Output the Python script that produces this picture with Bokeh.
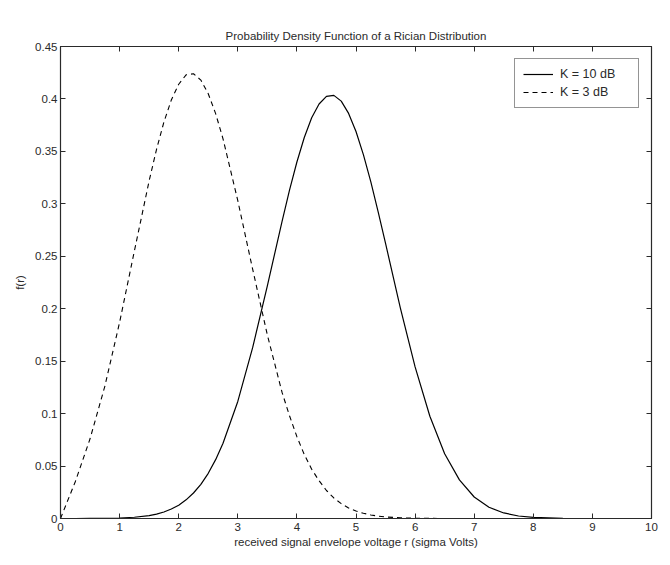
from bokeh.plotting import figure
from bokeh.models import LinearAxis, FixedTicker, Range1d, Legend, LegendItem
from bokeh.embed import file_html
from bokeh.resources import INLINE

# Data
r_values = [0, 0.25, 0.5, 0.75, 1.0, 1.25, 1.5, 1.625, 1.75, 1.875, 2.0, 2.125, 2.25,
            2.375, 2.5, 2.625, 2.75, 3.0, 3.25, 3.5, 3.75, 3.875, 4.0, 4.125, 4.25,
            4.375, 4.5, 4.625, 4.75, 4.875, 5.0, 5.125, 5.25, 5.375, 5.5, 5.75, 6.0,
            6.25, 6.5, 6.75, 7.0, 7.25, 7.5, 7.75, 8.0, 8.5, 9.0, 9.5, 10.0]
k10_db = [0, 0.0000, 0.0001, 0.0002, 0.0005, 0.0012, 0.0028, 0.0042, 0.0062, 0.0090,
          0.0127, 0.0178, 0.0243, 0.0326, 0.0431, 0.0561, 0.0717, 0.1116, 0.1626,
          0.2218, 0.2836, 0.3130, 0.3399, 0.3632, 0.3820, 0.3952, 0.4025, 0.4034,
          0.3979, 0.3862, 0.3690, 0.3469, 0.3211, 0.2924, 0.2622, 0.2009, 0.1445,
          0.0975, 0.0618, 0.0368, 0.0205, 0.0107, 0.0053, 0.0024, 0.0011, 0.0002,
          0.0, 0.0, 0.0]
k3_db = [0, 0.035, 0.076, 0.126, 0.187, 0.255, 0.322, 0.352, 0.378, 0.399, 0.414,
         0.423, 0.424, 0.418, 0.405, 0.386, 0.362, 0.303, 0.238, 0.175, 0.120,
         0.098, 0.078, 0.061, 0.047, 0.036, 0.0267, 0.0196, 0.0142, 0.0101, 0.0071,
         0.0050, 0.0034, 0.0023, 0.0015, 0.0006, 0.0002, 0.0001, 0.0, 0.0, 0.0, 0.0,
         0.0, 0.0, 0.0, 0.0, 0.0, 0.0, 0.0]

x_ticks = [0, 1, 2, 3, 4, 5, 6, 7, 8, 9, 10]
y_ticks = [0, 0.05, 0.1, 0.15, 0.2, 0.25, 0.3, 0.35, 0.4, 0.45]
y_tick_labels = ["0", "0.05", "0.1", "0.15", "0.2", "0.25", "0.3", "0.35", "0.4", "0.45"]

title_text = "Probability Density Function of a Rician Distribution"
x_label = "received signal envelope voltage r (sigma Volts)"
y_label = "f(r)"
series_labels = ["K = 10 dB", "K = 3 dB"]

FONT = "Liberation Sans"
INK = "#2a2a2a"

p = figure(width=670, height=565, output_backend="svg", toolbar_location=None,
           x_range=Range1d(0, 10), y_range=Range1d(0, 0.45),
           title=title_text, min_border_left=60, min_border_right=19,
           min_border_top=46, min_border_bottom=47)
p.background_fill_color = "white"
p.border_fill_color = "white"
p.outline_line_color = INK
p.outline_line_width = 1.2
p.grid.visible = False

p.title.align = "center"
p.title.text_font = FONT
p.title.text_font_size = "11.5px"
p.title.text_font_style = "normal"
p.title.text_color = INK
p.title.standoff = 10

solid = p.line(r_values, k10_db, line_color="black", line_width=1.2)
dashed = p.line(r_values, k3_db, line_color="black", line_width=1.1, line_dash="5 4")

for ax in (p.xaxis[0], p.yaxis[0]):
    ax.axis_line_color = INK
    ax.major_tick_in = 5
    ax.major_tick_out = 0
    ax.minor_tick_line_color = None
    ax.major_tick_line_color = INK
    ax.major_label_text_font = FONT
    ax.major_label_text_font_size = "11.5px"
    ax.major_label_text_color = INK
    ax.axis_label_text_font = FONT
    ax.axis_label_text_font_size = "11.5px"
    ax.axis_label_text_font_style = "normal"
    ax.axis_label_text_color = INK

p.xaxis[0].ticker = FixedTicker(ticks=x_ticks)
p.xaxis[0].axis_label = x_label
p.xaxis[0].axis_label_standoff = 2
p.xaxis[0].major_label_standoff = 4
p.yaxis[0].ticker = FixedTicker(ticks=y_ticks)
p.yaxis[0].major_label_overrides = dict(zip(y_ticks, y_tick_labels))
p.yaxis[0].axis_label = y_label
p.yaxis[0].axis_label_standoff = 6
p.yaxis[0].major_label_standoff = 3

top_axis = LinearAxis(ticker=FixedTicker(ticks=x_ticks),
                      major_label_overrides={t: "" for t in x_ticks})
right_axis = LinearAxis(ticker=FixedTicker(ticks=y_ticks),
                        major_label_overrides={t: "" for t in y_ticks})
for ax in (top_axis, right_axis):
    ax.axis_line_color = INK
    ax.major_tick_in = 5
    ax.major_tick_out = 0
    ax.minor_tick_line_color = None
    ax.major_tick_line_color = INK
    ax.major_label_text_font_size = "1px"
    ax.major_label_standoff = 0
p.add_layout(top_axis, "above")
p.add_layout(right_axis, "right")

legend = Legend(items=[LegendItem(label=series_labels[0], renderers=[solid]),
                       LegendItem(label=series_labels[1], renderers=[dashed])],
                location="top_right")
legend.label_text_font = FONT
legend.label_text_font_size = "12.5px"
legend.label_text_color = INK
legend.border_line_color = INK
legend.border_line_width = 1
legend.background_fill_alpha = 1
legend.glyph_width = 30
legend.glyph_height = 14
legend.label_standoff = 7
legend.spacing = 4
legend.padding = 8
legend.margin = 12
legend.label_width = 70
p.add_layout(legend)

open("out.html", "w").write(file_html(p, INLINE))
